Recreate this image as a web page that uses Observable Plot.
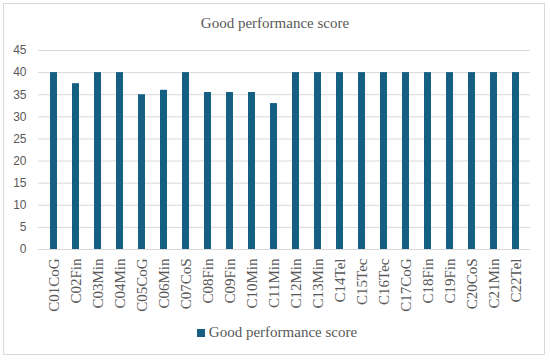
<!DOCTYPE html>
<html>
<head>
<meta charset="utf-8">
<script src="https://cdn.jsdelivr.net/npm/d3@7"></script>
<script src="https://cdn.jsdelivr.net/npm/@observablehq/plot@0.6"></script>
<style>
  html, body { margin: 0; padding: 0; background: #fff; }
  #wrap { position: relative; width: 550px; height: 361px; overflow: hidden; }
  #frame { position: absolute; left: 3px; top: 3px; width: 542px; height: 352px; border: 1px solid #d9d9d9; box-sizing: border-box; }
  #title { position: absolute; left: 0; top: 15px; width: 550px; text-align: center;
           font-family: "Liberation Serif", "DejaVu Serif", serif; font-size: 15px; color: #595959; }
  #chart { position: absolute; left: 0; top: 0; }
  #legend { position: absolute; left: 2px; top: 324px; width: 550px; text-align: center;
            font-family: "Liberation Serif", "DejaVu Serif", serif; font-size: 15px; color: #595959; }
  #legend .sw { display: inline-block; width: 8px; height: 8px; background: #156082; margin-right: 4px; vertical-align: 0px; }
</style>
</head>
<body>
<div id="wrap">
  <div id="frame"></div>
  <div id="chart"></div>
  <div id="title">Good performance score</div>
  <div id="legend"><span class="sw"></span>Good performance score</div>
</div>
<script>
const categories = ["C01CoG","C02Fin","C03Min","C04Min","C05CoG","C06Min","C07CoS","C08Fin","C09Fin","C10Min","C11Min","C12Min","C13Min","C14Tel","C15Tec","C16Tec","C17CoG","C18Fin","C19Fin","C20CoS","C21Min","C22Tel"];
const scores = [40,37.5,40,40,35,36,40,35.5,35.5,35.5,33,40,40,40,40,40,40,40,40,40,40,40];
const yTicks = [0,5,10,15,20,25,30,35,40,45];

const data = categories.map((c, i) => ({category: c, score: scores[i]}));

const chart = Plot.plot({
  width: 550,
  height: 320,
  marginLeft: 38,
  marginRight: 20,
  marginTop: 50,
  marginBottom: 71,
  style: {background: "transparent", overflow: "visible"},
  x: {domain: categories, paddingInner: 0.69, paddingOuter: 0.345, label: null},
  y: {domain: [0, 45], ticks: yTicks, label: null},
  marks: [
    Plot.gridY(yTicks, {stroke: "#d9d9d9", strokeOpacity: 1, strokeWidth: 1}),
    Plot.barY(data, {x: "category", y: "score", fill: "#156082"}),
    Plot.axisY(yTicks, {tickSize: 0, tickPadding: 12, fontSize: 12, fill: "#595959",
      fontFamily: "Liberation Sans, Arial, sans-serif", label: null}),
    Plot.axisX({tickSize: 0, tickPadding: 9, tickRotate: -90, fontSize: 15, fill: "#595959",
      fontFamily: "Liberation Serif, DejaVu Serif, serif", label: null})
  ]
});
document.getElementById("chart").appendChild(chart);
</script>
</body>
</html>
